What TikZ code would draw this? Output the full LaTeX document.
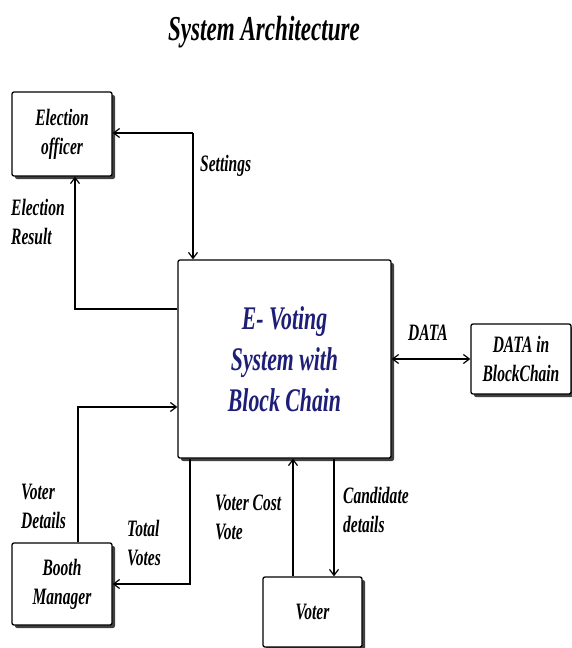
\documentclass[tikz,border=0pt]{standalone}
\usepackage{fontspec}
\setmainfont[FakeStretch=0.66]{Liberation Serif}
\usetikzlibrary{arrows.meta,calc}
\definecolor{navy}{RGB}{30,30,120}
\begin{document}
\begin{tikzpicture}[x=1pt,y=-1pt,
  bfont/.style={font=\fontsize{23.5}{29}\selectfont\bfseries\itshape},
  box/.style={draw,line width=1.3pt,rounded corners=2pt,fill=white,align=center,inner sep=0pt},
  lbl/.style={bfont,align=left,inner sep=0pt},
  arr/.style={line width=1.2pt,-{Straight Barb[length=6pt,width=9pt,line width=1.2pt]}},
  darr/.style={line width=1.2pt,{Straight Barb[length=6pt,width=9pt,line width=1.2pt]}-{Straight Barb[length=6pt,width=9pt,line width=1.2pt]}},
  shade/.style={fill=black!75,rounded corners=2pt}]
\useasboundingbox (0,0) rectangle (572,648);
\fill[white] (0,0) rectangle (572,648);
% shadows
\foreach \a/\b/\c/\d in {12/92/112/176, 178/260/391/458, 471/324/571/394, 12/543/112/625, 263/577/362/647}{
  \fill[shade] (\a+3,\b+3) rectangle (\c+3,\d+3);
}
\node[font=\fontsize{35}{40}\selectfont\bfseries\itshape] (title) at (264,32) {System Architecture};
\node[box,bfont,minimum width=100pt,minimum height=84pt] (off) at (62,134) {Election\\officer};
\node[box,minimum width=213pt,minimum height=198pt,font=\fontsize{33}{41}\selectfont\bfseries\itshape,text=navy] (main) at (284.5,359) {E- Voting\\System with\\Block Chain};
\node[box,bfont,minimum width=100pt,minimum height=70pt] (bc) at (521,359) {DATA in\\BlockChain};
\node[box,bfont,minimum width=100pt,minimum height=82pt] (booth) at (62,584) {Booth\\Manager};
\node[box,bfont,minimum width=99pt,minimum height=70pt] (voter) at (312.5,612) {Voter};
% coordinates
\coordinate (s1) at (193,133);
\coordinate (er) at (75,309);
\coordinate (vd) at (78,407);
\coordinate (tv) at (190,584);
\coordinate (vc) at (293,0);
\coordinate (cd) at (334,0);
% connectors
\draw[arr] (s1) -- (off.east |- s1);
\draw[arr] (s1) -- (main.north -| s1);
\draw[arr] (main.west |- er) -| (off.south -| er);
\draw[arr] (booth.north -| vd) |- (main.west |- vd);
\draw[arr] (main.south -| tv) |- (booth.east |- tv);
\draw[arr] (voter.north -| vc) -- (main.south -| vc);
\draw[arr] (main.south -| cd) -- (voter.north -| cd);
\draw[darr] (main.east |- bc.west) -- (bc.west);
% labels
\node[lbl,anchor=west] (lset) at (200,166) {Settings};
\node[lbl,anchor=west] (ler) at (11,222) {Election\\Result};
\node[lbl] (ldata) at (428,333) {DATA};
\node[lbl,anchor=west] (lvd) at (21,506) {Voter\\Details};
\node[lbl,anchor=west] (ltv) at (127,543) {Total\\Votes};
\node[lbl,anchor=west] (lvc) at (215,517) {Voter Cost\\Vote};
\node[lbl,anchor=west] (lcd) at (343,510) {Candidate\\details};
\end{tikzpicture}
\end{document}
